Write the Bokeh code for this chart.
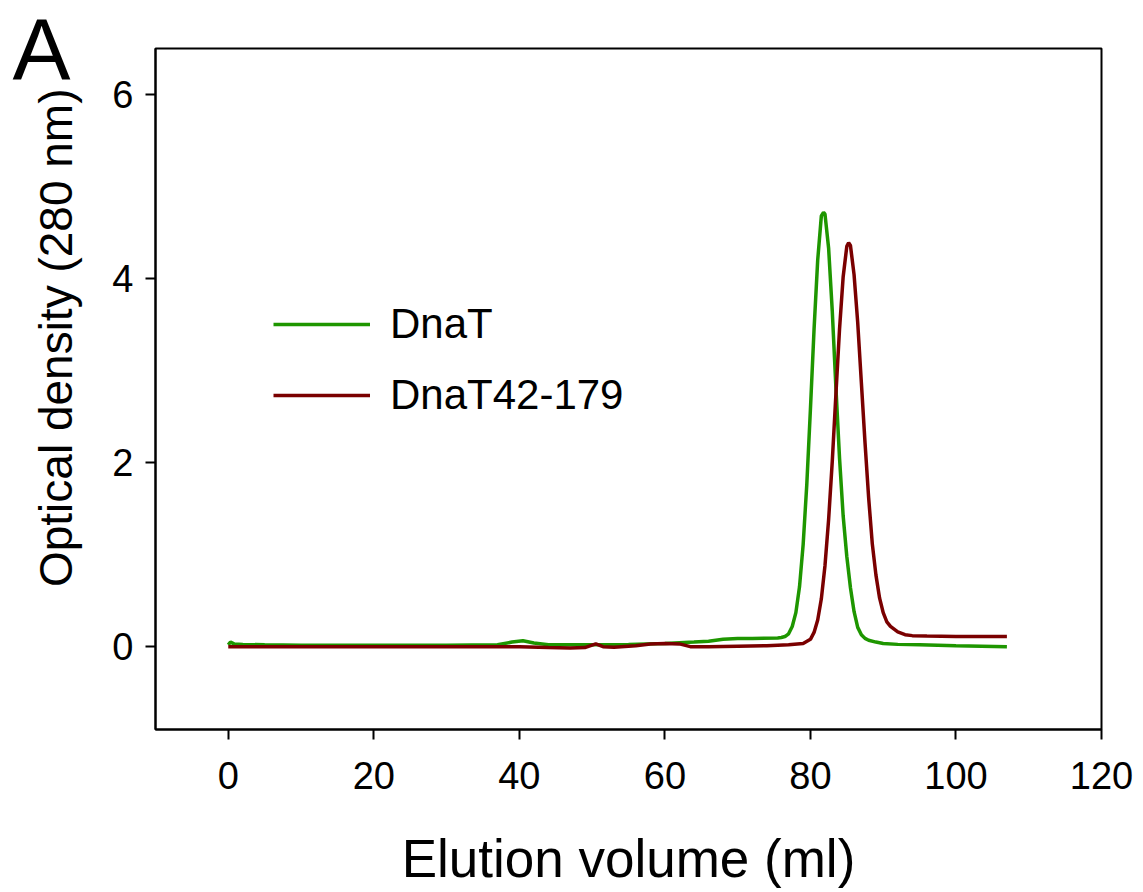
from bokeh.plotting import figure
from bokeh.models import FixedTicker, Legend, LegendItem, Range1d, Title
from bokeh.embed import file_html
from bokeh.resources import INLINE

# ---- data ----
x_ticks = [0, 20, 40, 60, 80, 100, 120]
y_ticks = [0, 2, 4, 6]

dnat_x = [0, 0.3, 0.8, 2, 5, 10, 20, 30, 37, 39, 40.5, 42, 44, 50, 55, 60, 64, 66, 68, 70, 72,
          75.5, 76, 76.5, 77, 77.5, 78, 78.5, 79, 79.5, 80, 80.5, 81, 81.5, 81.8, 82, 82.5, 83,
          83.5, 84, 84.5, 85, 85.5, 86, 86.5, 87, 87.5, 88, 89, 90, 92, 95, 100, 107]
dnat_y = [0.02, 0.05, 0.03, 0.025, 0.02, 0.015, 0.015, 0.015, 0.02, 0.05, 0.065, 0.04, 0.02, 0.02,
          0.025, 0.035, 0.05, 0.06, 0.08, 0.09, 0.09, 0.095, 0.10, 0.11, 0.14, 0.22, 0.37, 0.65,
          1.11, 1.76, 2.58, 3.45, 4.2, 4.68, 4.72, 4.70, 4.33, 3.65, 2.82, 2.05, 1.42, 0.98, 0.64,
          0.38, 0.21, 0.13, 0.09, 0.07, 0.05, 0.035, 0.025, 0.02, 0.01, 0.0]

trunc_x = [0, 10, 20, 30, 40, 44, 47, 49, 50.5, 51.5, 53, 56, 58, 60, 62, 63.5, 66, 70, 74, 77,
           79, 80, 80.5, 81, 81.5, 82, 82.5, 83, 83.5, 84, 84.5, 85, 85.25, 85.5, 86, 86.5, 87,
           87.5, 88, 88.5, 89, 89.5, 90, 90.5, 91, 91.5, 92, 93, 94, 96, 100, 107]
trunc_y = [0.0, 0.0, 0.0, 0.0, 0.0, -0.01, -0.015, -0.01, 0.03, 0.0, -0.005, 0.01, 0.03, 0.035,
           0.03, 0.0, 0.0, 0.005, 0.01, 0.02, 0.035, 0.08, 0.155, 0.29, 0.52, 0.88, 1.38, 2.01,
           2.74, 3.45, 4.02, 4.35, 4.39, 4.36, 4.04, 3.52, 2.87, 2.22, 1.62, 1.12, 0.78, 0.53,
           0.37, 0.27, 0.22, 0.19, 0.16, 0.13, 0.12, 0.115, 0.11, 0.11]

series_labels = ["DnaT", "DnaT42-179"]
x_title = "Elution volume (ml)"
y_title = "Optical density (280 nm)"
panel_letter = "A"

FONT = "Liberation Sans"
GREEN = "#1e9600"
MAROON = "#7a0000"

p = figure(title=None, frame_width=946, frame_height=681,
           min_border_left=155, min_border_right=34, min_border_top=48, min_border_bottom=140,
           x_range=Range1d(-10, 120), y_range=Range1d(-0.9, 6.5),
           output_backend="svg", toolbar_location=None)
p.xgrid.visible = False
p.ygrid.visible = False
p.outline_line_color = "black"
p.outline_line_width = 2
p.background_fill_color = "white"
p.border_fill_color = "white"

for ax in (p.xaxis[0], p.yaxis[0]):
    ax.axis_line_width = 2
    ax.axis_line_color = "black"
    ax.major_tick_line_width = 2
    ax.major_tick_line_color = "black"
    ax.major_tick_out = 10
    ax.major_tick_in = 0
    ax.minor_tick_out = 0
    ax.minor_tick_in = 0
    ax.major_label_text_font = FONT
    ax.major_label_text_font_size = "38px"
    ax.major_label_text_color = "black"

p.xaxis.major_label_standoff = 22
p.yaxis.major_label_standoff = 12
p.xaxis.ticker = FixedTicker(ticks=x_ticks)
p.yaxis.ticker = FixedTicker(ticks=y_ticks)
p.xaxis.axis_label = x_title
p.xaxis.axis_label_text_font = FONT
p.xaxis.axis_label_text_font_size = "53px"
p.xaxis.axis_label_text_font_style = "normal"
p.xaxis.axis_label_text_color = "black"
p.xaxis.axis_label_standoff = 37

g = p.line(dnat_x, dnat_y, line_color=GREEN, line_width=3.5)
r = p.line(trunc_x, trunc_y, line_color=MAROON, line_width=3.5)

legend = Legend(items=[LegendItem(label=series_labels[0], renderers=[g]),
                       LegendItem(label=series_labels[1], renderers=[r])],
                location=(118, 310), glyph_width=97, glyph_height=48, label_height=48,
                label_text_font=FONT, label_text_font_size="42px", label_text_color="black",
                label_standoff=20, spacing=23, padding=0, margin=0,
                border_line_alpha=0, background_fill_alpha=0)
p.add_layout(legend)

ytitle = Title(text=y_title, align="right", offset=40, vertical_align="bottom", standoff=55,
               text_font=FONT, text_font_size="46px", text_font_style="normal",
               text_color="black")
p.add_layout(ytitle, "left")

letter = Title(text=panel_letter, align="left", offset=-143, vertical_align="bottom",
               standoff=-99, text_font=FONT, text_font_size="87px",
               text_font_style="normal", text_color="black")
p.add_layout(letter, "above")

open("out.html", "w").write(file_html(p, INLINE))
